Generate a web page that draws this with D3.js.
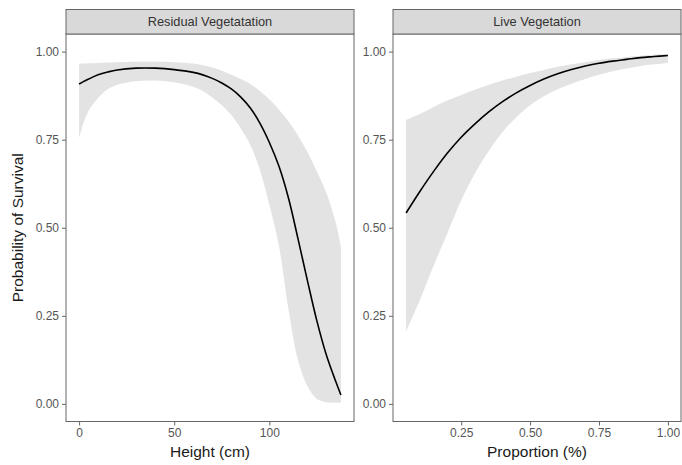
<!DOCTYPE html>
<html>
<head>
<meta charset="utf-8">
<script src="https://cdn.jsdelivr.net/npm/d3@7"></script>
<style>
  html, body { margin: 0; padding: 0; background: #ffffff; }
  svg { display: block; font-family: "Liberation Sans", Arial, Helvetica, sans-serif; }
</style>
</head>
<body>
<svg id="chart" width="682" height="465"></svg>
<script>
// Residual vegetation: survival vs. height (cm)
const heightX     = [0, 2, 5, 10, 15, 20, 30, 40, 50, 60, 65, 70, 75, 80, 85, 90, 95, 100, 105, 110, 115, 120, 125, 130, 135, 137.6];
const heightFit   = [0.908, 0.914, 0.922, 0.934, 0.942, 0.948, 0.953, 0.953, 0.949, 0.941, 0.934, 0.924, 0.911, 0.894, 0.871, 0.840, 0.797, 0.742, 0.675, 0.585, 0.470, 0.350, 0.235, 0.138, 0.062, 0.025];
const heightUpper = [0.965, 0.966, 0.967, 0.968, 0.969, 0.970, 0.971, 0.971, 0.970, 0.966, 0.961, 0.955, 0.946, 0.934, 0.922, 0.908, 0.888, 0.865, 0.836, 0.802, 0.762, 0.715, 0.660, 0.598, 0.512, 0.447];
const heightLower = [0.755, 0.792, 0.832, 0.868, 0.893, 0.906, 0.916, 0.918, 0.913, 0.900, 0.888, 0.870, 0.848, 0.820, 0.782, 0.735, 0.665, 0.565, 0.450, 0.270, 0.125, 0.050, 0.014, 0.005, 0.003, 0.003];

// Live vegetation: survival vs. proportion
const propX     = [0.05, 0.10, 0.15, 0.20, 0.25, 0.30, 0.35, 0.40, 0.45, 0.50, 0.55, 0.60, 0.65, 0.70, 0.75, 0.80, 0.85, 0.90, 0.95, 1.00];
const propFit   = [0.542, 0.603, 0.660, 0.712, 0.757, 0.795, 0.829, 0.858, 0.883, 0.904, 0.922, 0.937, 0.949, 0.959, 0.967, 0.973, 0.978, 0.983, 0.986, 0.989];
const propUpper = [0.806, 0.823, 0.843, 0.861, 0.877, 0.892, 0.906, 0.918, 0.929, 0.939, 0.948, 0.957, 0.964, 0.970, 0.976, 0.981, 0.985, 0.988, 0.991, 0.993];
const propLower = [0.205, 0.295, 0.392, 0.485, 0.578, 0.655, 0.718, 0.772, 0.814, 0.848, 0.873, 0.893, 0.909, 0.922, 0.934, 0.944, 0.952, 0.959, 0.964, 0.968];

const panelTitles = ["Residual Vegetatation", "Live Vegetation"];
const xTitles = ["Height (cm)", "Proportion (%)"];
const heightTicks = [0, 50, 100];
const propTicks = [0.25, 0.50, 0.75, 1.00];
const yTicks = [0.00, 0.25, 0.50, 0.75, 1.00];
const yTitle = "Probability of Survival";

const svg = d3.select("#chart");
const stripTop = 9.5, panelTop = 34, panelBottom = 421.5;
const panelsX = [[66, 354], [393, 681]];
const borderCol = "#666666";
const smooth = d3.curveCatmullRom.alpha(0.5);

const y = d3.scaleLinear().domain([-0.05, 1.05]).range([panelBottom, panelTop]);

// 5% padding on each side of the data range
function expanded(ext) {
  const pad = (ext[1] - ext[0]) * 0.05;
  return [ext[0] - pad, ext[1] + pad];
}

const panels = [
  { xs: heightX, fit: heightFit, lo: heightLower, hi: heightUpper, ticks: heightTicks, fmt: d3.format("d") },
  { xs: propX, fit: propFit, lo: propLower, hi: propUpper, ticks: propTicks, fmt: d3.format(".2f") }
];

panels.forEach((p, i) => {
  const [x0, x1] = panelsX[i];
  const x = d3.scaleLinear().domain(expanded(d3.extent(p.xs))).range([x0, x1]);
  const rows = p.xs.map((v, k) => ({ x: v, fit: p.fit[k], lo: p.lo[k], hi: p.hi[k] }));

  const g = svg.append("g");
  const clipId = "clip" + i;
  svg.append("clipPath").attr("id", clipId)
    .append("rect").attr("x", x0).attr("y", panelTop).attr("width", x1 - x0).attr("height", panelBottom - panelTop);

  const plot = g.append("g").attr("clip-path", `url(#${clipId})`);

  // confidence band
  plot.append("path").datum(rows)
    .attr("fill", "#e3e3e3")
    .attr("d", d3.area().x(d => x(d.x)).y0(d => y(d.lo)).y1(d => y(d.hi)).curve(smooth));

  // fitted curve
  plot.append("path").datum(rows)
    .attr("fill", "none").attr("stroke", "#000000").attr("stroke-width", 1.6)
    .attr("d", d3.line().x(d => x(d.x)).y(d => y(d.fit)).curve(smooth));

  // panel border
  g.append("rect").attr("x", x0).attr("y", panelTop).attr("width", x1 - x0).attr("height", panelBottom - panelTop)
    .attr("fill", "none").attr("stroke", borderCol).attr("stroke-width", 1);

  // strip
  g.append("rect").attr("x", x0).attr("y", stripTop).attr("width", x1 - x0).attr("height", panelTop - stripTop)
    .attr("fill", "#d9d9d9").attr("stroke", borderCol).attr("stroke-width", 1);
  g.append("text").attr("x", (x0 + x1) / 2).attr("y", (stripTop + panelTop) / 2)
    .attr("text-anchor", "middle").attr("dominant-baseline", "central")
    .attr("font-size", 12.8).attr("fill", "#333333").text(panelTitles[i]);

  // x axis
  const xAxis = d3.axisBottom(x).tickValues(p.ticks).tickFormat(p.fmt).tickSize(4).tickPadding(3);
  const xa = g.append("g").attr("transform", `translate(0,${panelBottom})`).call(xAxis);
  xa.select(".domain").remove();
  xa.selectAll(".tick line").attr("stroke", borderCol);
  xa.selectAll(".tick text").attr("fill", "#555555").attr("font-size", 12)
    .attr("font-family", "Liberation Sans, Arial, sans-serif");

  // y axis
  const yAxis = d3.axisLeft(y).tickValues(yTicks).tickFormat(d3.format(".2f")).tickSize(4).tickPadding(3);
  const ya = g.append("g").attr("transform", `translate(${x0},0)`).call(yAxis);
  ya.select(".domain").remove();
  ya.selectAll(".tick line").attr("stroke", borderCol);
  ya.selectAll(".tick text").attr("fill", "#555555").attr("font-size", 12)
    .attr("font-family", "Liberation Sans, Arial, sans-serif");

  // x title
  g.append("text").attr("x", (x0 + x1) / 2).attr("y", 456.5)
    .attr("text-anchor", "middle").attr("font-size", 15.5).attr("fill", "#1a1a1a").text(xTitles[i]);
});

// y title
svg.append("text")
  .attr("transform", `translate(22.5,${(panelTop + panelBottom) / 2}) rotate(-90)`)
  .attr("text-anchor", "middle").attr("font-size", 15.5).attr("fill", "#1a1a1a").text(yTitle);
</script>
</body>
</html>
